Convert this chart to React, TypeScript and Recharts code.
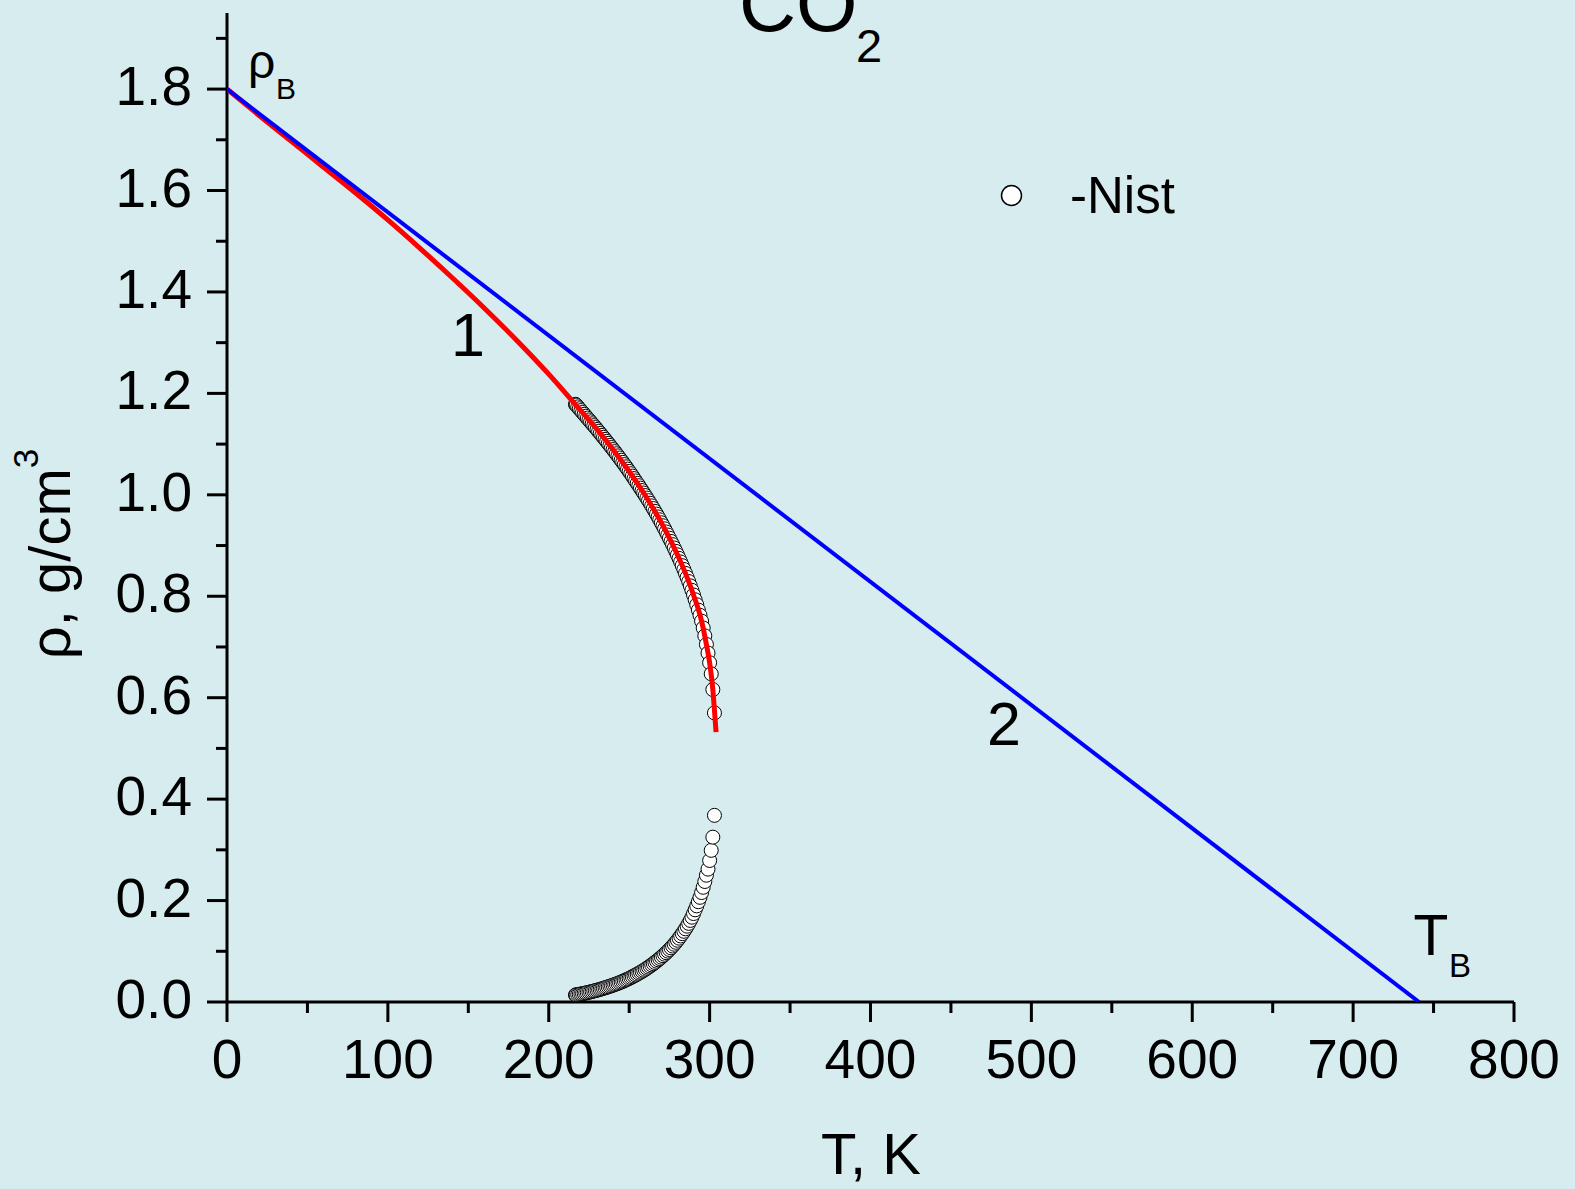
import { ComposedChart, Line, XAxis, YAxis } from 'recharts'

// NIST saturation data for CO2, T in K, density in g/cm3
const nistT = [
  216.6, 217, 218, 219, 220, 221, 222, 223, 224, 225, 226, 227, 228, 229, 230, 231, 232, 233, 234, 235,
  236, 237, 238, 239, 240, 241, 242, 243, 244, 245, 246, 247, 248, 249, 250, 251, 252, 253, 254, 255,
  256, 257, 258, 259, 260, 261, 262, 263, 264, 265, 266, 267, 268, 269, 270, 271, 272, 273, 274, 275,
  276, 277, 278, 279, 280, 281, 282, 283, 284, 285, 286, 287, 288, 289, 290, 291, 292, 293, 294, 295,
  296, 297, 298, 299, 300, 301, 302, 303,
]
const nistLiquid = [
  1.1785, 1.177, 1.1734, 1.1697, 1.1661, 1.1624, 1.1587, 1.155, 1.1513, 1.1476, 1.1439, 1.1401, 1.1364, 1.1326, 1.1288, 1.125, 1.1211, 1.1172, 1.1133, 1.1094,
  1.1054, 1.1014, 1.0974, 1.0933, 1.0893, 1.0852, 1.081, 1.0768, 1.0726, 1.0683, 1.064, 1.0596, 1.0552, 1.0507, 1.0462, 1.0416, 1.0369, 1.032, 1.0274, 1.0227,
  1.018, 1.0132, 1.0084, 1.0035, 0.9986, 0.9936, 0.9885, 0.9834, 0.9782, 0.9729, 0.9675, 0.962, 0.9564, 0.9507, 0.9449, 0.939, 0.933, 0.9268, 0.9207, 0.9145,
  0.9082, 0.9018, 0.8952, 0.8885, 0.8817, 0.8747, 0.8676, 0.8603, 0.8528, 0.8451, 0.8372, 0.829, 0.8205, 0.8117, 0.8026, 0.7931, 0.7832, 0.7728, 0.7625, 0.751,
  0.7375, 0.722, 0.705, 0.688, 0.669, 0.647, 0.616, 0.57,
]
const nistVapor = [
  0.0138, 0.014, 0.0146, 0.0152, 0.0158, 0.0164, 0.0171, 0.0178, 0.0185, 0.0193, 0.02, 0.0208, 0.0216, 0.0224, 0.0233, 0.0242, 0.0251, 0.026, 0.027, 0.028,
  0.029, 0.03, 0.0311, 0.0322, 0.0333, 0.0344, 0.0356, 0.0368, 0.0381, 0.0394, 0.0407, 0.0421, 0.0436, 0.0451, 0.0466, 0.0482, 0.0498, 0.0515, 0.0532, 0.055,
  0.0568, 0.0587, 0.0606, 0.0625, 0.0645, 0.0666, 0.0687, 0.0709, 0.0732, 0.0756, 0.078, 0.0805, 0.0831, 0.0857, 0.0884, 0.0913, 0.0942, 0.0972, 0.1003, 0.1035,
  0.1068, 0.1103, 0.1139, 0.1177, 0.1217, 0.1259, 0.1302, 0.1347, 0.1394, 0.1443, 0.1495, 0.155, 0.1608, 0.1672, 0.1744, 0.1818, 0.1895, 0.1977, 0.2064, 0.2158,
  0.2262, 0.2376, 0.25, 0.262, 0.279, 0.299, 0.325, 0.368,
]

// curve 1 (fit)
const fitT = [0, 20, 40, 60, 80, 100, 120, 140, 160, 180, 200, 216.6, 230, 240, 250, 260, 270, 280, 285, 290, 295, 298, 300, 302, 303, 304]
const fitRho = [1.8, 1.748, 1.697, 1.646, 1.595, 1.542, 1.486, 1.428, 1.368, 1.305, 1.238, 1.178, 1.129, 1.089, 1.046, 0.9986, 0.9449, 0.8817, 0.8451, 0.8026, 0.751, 0.705, 0.669, 0.616, 0.575, 0.532]

// line 2 (rho_B -> T_B)
const lineT = [0, 741]
const lineRho = [1.8, 0]

const xTicks = [0, 50, 100, 150, 200, 250, 300, 350, 400, 450, 500, 550, 600, 650, 700, 750, 800]
const yTicks = [0, 0.1, 0.2, 0.3, 0.4, 0.5, 0.6, 0.7, 0.8, 0.9, 1.0, 1.1, 1.2, 1.3, 1.4, 1.5, 1.6, 1.7, 1.8, 1.9]

const liquid = nistT.map((t, i) => ({ t, r: nistLiquid[i] }))
const vapor = nistT.map((t, i) => ({ t, r: nistVapor[i] }))
const fit = fitT.map((t, i) => ({ t, r: fitRho[i] }))
const line2 = lineT.map((t, i) => ({ t, r: lineRho[i] }))

const W = 1575
const H = 1189
const MARGIN = { top: 13, right: 61, left: 0, bottom: 127 }
const X_H = 60
const Y_W = 227

const FONT = '"Liberation Sans", Arial, Helvetica, sans-serif'
const BG = '#d6ecef'

function XTick(props: any) {
  const { x, y, payload } = props
  const major = Math.round(payload.value) % 100 === 0
  return (
    <g>
      <line x1={x} x2={x} y1={y} y2={y + (major ? 20 : 11)} stroke="#000" strokeWidth={3} />
      {major && (
        <text x={x} y={y + 76} textAnchor="middle" fontSize={55} fontFamily={FONT} fill="#000">
          {payload.value}
        </text>
      )}
    </g>
  )
}

function YTick(props: any) {
  const { x, y, payload } = props
  const major = Math.round(payload.value * 10) % 2 === 0
  return (
    <g>
      <line x1={x - (major ? 20 : 11)} x2={x} y1={y} y2={y} stroke="#000" strokeWidth={3} />
      {major && (
        <text x={x - 35} y={y + 16} textAnchor="end" fontSize={55} fontFamily={FONT} fill="#000">
          {Number(payload.value).toFixed(1)}
        </text>
      )}
    </g>
  )
}

// open circle used for the NIST points
const nistDot = (p: any) => (
  <circle key={p.key ?? `${p.cx}-${p.cy}`} cx={p.cx} cy={p.cy} r={7} fill="#fff" stroke="#000" strokeWidth={1} />
)

export default function App() {
  return (
    <div style={{ position: 'fixed', left: 0, top: 0, width: W, height: H, background: BG, overflow: 'hidden' }}>
      {/* axes + NIST points */}
      <ComposedChart width={W} height={H} margin={MARGIN}>
        <XAxis
          type="number"
          dataKey="t"
          domain={[0, 800]}
          ticks={xTicks}
          interval={0}
          height={X_H}
          tickSize={0}
          tickMargin={0}
          tickLine={false}
          tick={<XTick />}
          axisLine={{ stroke: '#000', strokeWidth: 3 }}
          allowDataOverflow
        />
        <YAxis
          type="number"
          dataKey="r"
          domain={[0, 1.95]}
          ticks={yTicks}
          interval={0}
          width={Y_W}
          tickSize={0}
          tickMargin={0}
          tickLine={false}
          tick={<YTick />}
          axisLine={{ stroke: '#000', strokeWidth: 3 }}
          allowDataOverflow
        />
        <Line data={vapor} dataKey="r" stroke="none" dot={nistDot} activeDot={false} isAnimationActive={false} />
        <Line data={liquid} dataKey="r" stroke="none" dot={nistDot} activeDot={false} isAnimationActive={false} />
      </ComposedChart>

      {/* curves 1 and 2, drawn over the points on the same scales */}
      <div style={{ position: 'absolute', left: 0, top: 0 }}>
        <ComposedChart
          width={W}
          height={H}
          margin={{ top: MARGIN.top, right: MARGIN.right, left: MARGIN.left + Y_W, bottom: MARGIN.bottom + X_H }}
        >
          <XAxis type="number" dataKey="t" domain={[0, 800]} hide allowDataOverflow />
          <YAxis type="number" dataKey="r" domain={[0, 1.95]} hide allowDataOverflow />
          <Line data={fit} dataKey="r" type="monotone" stroke="#ff0000" strokeWidth={5} dot={false} activeDot={false} isAnimationActive={false} />
          <Line data={line2} dataKey="r" type="linear" stroke="#0000ff" strokeWidth={4} dot={false} activeDot={false} isAnimationActive={false} />
        </ComposedChart>
      </div>

      <svg width={W} height={H} style={{ position: 'absolute', left: 0, top: 0, pointerEvents: 'none' }} fontFamily={FONT} fill="#000">
        <text x={739} y={31} fontSize={79}>CO</text>
        <text x={856} y={62} fontSize={47}>2</text>
        <text x={248} y={78} fontSize={48}>ρ</text>
        <text x={276} y={99} fontSize={30}>B</text>
        <text x={468} y={356} fontSize={61} textAnchor="middle">1</text>
        <text x={1004} y={745} fontSize={61} textAnchor="middle">2</text>
        <text x={1431} y={955} fontSize={57} textAnchor="middle">T</text>
        <text x={1460} y={977} fontSize={33} textAnchor="middle">B</text>
        <circle cx={1011.5} cy={195.5} r={10} fill="#fff" stroke="#000" strokeWidth={1.5} />
        <text x={1070} y={213} fontSize={51}>-Nist</text>
        <text x={871} y={1174} fontSize={58} textAnchor="middle">T, K</text>
        <text transform="translate(70,554) rotate(-90)" fontSize={58} textAnchor="middle">
          ρ, g/cm<tspan fontSize={35} dy={-32}>3</tspan>
        </text>
      </svg>
    </div>
  )
}
